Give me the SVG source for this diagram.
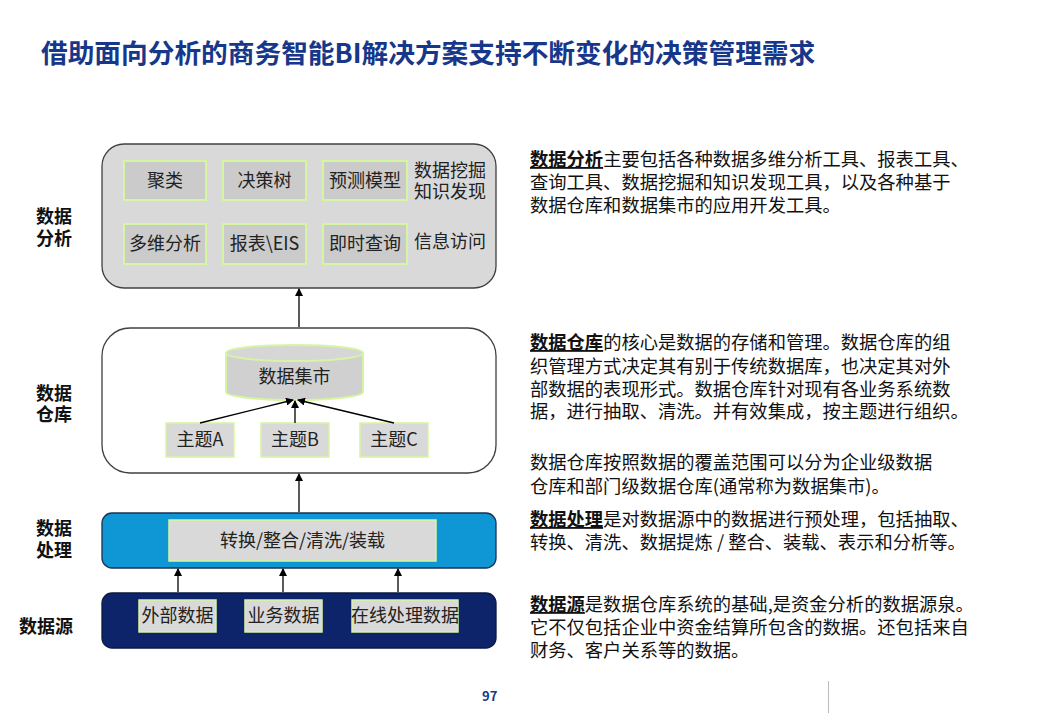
<svg xmlns="http://www.w3.org/2000/svg" width="1040" height="720" viewBox="0 0 1040 720">
<style>
text{font-family:"Noto Sans CJK SC","Liberation Sans",sans-serif;}
.title{font-size:26.7px;font-weight:bold;fill:#17378a;}
.lbl{font-size:18px;font-weight:bold;fill:#111;text-anchor:middle;}
.in{font-size:18px;fill:#222;text-anchor:middle;}
.side{font-size:18px;fill:#222;}
.desc{font-size:18.3px;fill:#111;}
.b{font-weight:bold;text-decoration:underline;}
.inbox{fill:#cbcbcb;stroke:#d6f5a0;stroke-width:2;}
.inbox2{fill:#d9d9d9;stroke:#d6f5a0;stroke-width:1.5;}
.conn{stroke:#000;stroke-width:1.3;fill:none;marker-end:url(#ah);}
</style>
<defs>
<marker id="ah" markerWidth="8" markerHeight="8" refX="7" refY="4" orient="auto" markerUnits="userSpaceOnUse">
<path d="M0,0 L8,4 L0,8 Z" fill="#000"/>
</marker>
</defs>
<rect width="1040" height="720" fill="#fff"/>
<text class="title" x="41" y="63">借助面向分析的商务智能BI解决方案支持不断变化的决策管理需求</text>

<g id="labels">
<text class="lbl" x="54" y="223">数据</text>
<text class="lbl" x="54" y="245">分析</text>
<text class="lbl" x="54" y="400">数据</text>
<text class="lbl" x="54" y="421">仓库</text>
<text class="lbl" x="54" y="535">数据</text>
<text class="lbl" x="54" y="557">处理</text>
<text class="lbl" x="46" y="633">数据源</text>
</g>

<g id="layer-analysis">
<rect x="102" y="144" width="394" height="144" rx="22" fill="#d9d9d9" stroke="#404040" stroke-width="1.3"/>
<g id="n-julei"><rect class="inbox" x="124" y="161" width="82" height="39"/><text class="in" x="165" y="187">聚类</text></g>
<g id="n-juecheshu"><rect class="inbox" x="223" y="161" width="83" height="39"/><text class="in" x="264.5" y="187">决策树</text></g>
<g id="n-yuce"><rect class="inbox" x="323" y="161" width="84" height="39"/><text class="in" x="365" y="187">预测模型</text></g>
<g id="n-duowei"><rect class="inbox" x="124" y="224" width="82" height="40"/><text class="in" x="165" y="250">多维分析</text></g>
<g id="n-baobiao"><rect class="inbox" x="223" y="224" width="83" height="40"/><text class="in" x="264.5" y="250">报表\EIS</text></g>
<g id="n-jishi"><rect class="inbox" x="323" y="224" width="84" height="40"/><text class="in" x="365" y="250">即时查询</text></g>
<text class="side" x="414" y="177">数据挖掘</text>
<text class="side" x="414" y="198">知识发现</text>
<text class="side" x="414" y="248">信息访问</text>
</g>

<g id="layer-warehouse">
<rect x="102" y="328" width="394" height="145" rx="28" fill="#fff" stroke="#404040" stroke-width="1.3"/>
<g id="n-jishi-mart">
<path d="M226,353 L226,392 A68.5,8 0 0 0 363,392 L363,353" fill="#d0d0d0" stroke="#d6f5a0" stroke-width="2"/>
<ellipse cx="294.5" cy="353" rx="68.5" ry="8" fill="#d6d6d6" stroke="#d6f5a0" stroke-width="2"/>
<text class="in" x="294.5" y="383">数据集市</text>
</g>
<g id="n-ta"><rect class="inbox2" x="166" y="423" width="68" height="34"/><text class="in" x="200" y="446">主题A</text></g>
<g id="n-tb"><rect class="inbox2" x="261" y="423" width="68" height="34"/><text class="in" x="295" y="446">主题B</text></g>
<g id="n-tc"><rect class="inbox2" x="360" y="423" width="68" height="34"/><text class="in" x="394" y="446">主题C</text></g>
</g>

<g id="layer-processing">
<rect x="102" y="513" width="394" height="55" rx="10" fill="#0e97d4" stroke="#1a3050" stroke-width="1.3"/>
<g id="n-etl"><rect class="inbox2" x="169" y="520" width="267" height="41"/><text class="in" x="302.5" y="547">转换/整合/清洗/装载</text></g>
</g>

<g id="layer-source">
<rect x="102" y="593" width="394" height="55" rx="10" fill="#0d236a" stroke="#0a1a40" stroke-width="1.3"/>
<g id="n-waibu"><rect class="inbox2" x="139" y="600" width="77" height="32" stroke-width="0"/><text class="in" x="177.5" y="622">外部数据</text></g>
<g id="n-yewu"><rect class="inbox2" x="245" y="600" width="77" height="32" stroke-width="0"/><text class="in" x="283.5" y="622">业务数据</text></g>
<g id="n-zaixian"><rect class="inbox2" x="352" y="600" width="106" height="32" stroke-width="0"/><text class="in" x="405" y="622">在线处理数据</text></g>
</g>

<g id="connectors">
<line class="conn" x1="299" y1="327" x2="299" y2="289"/>
<line class="conn" x1="299" y1="512" x2="299" y2="474"/>
<line class="conn" x1="200" y1="423" x2="293" y2="400"/>
<line class="conn" x1="295" y1="423" x2="295" y2="401"/>
<line class="conn" x1="394" y1="423" x2="298" y2="400"/>
<line class="conn" x1="178" y1="592" x2="178" y2="569"/>
<line class="conn" x1="283" y1="592" x2="283" y2="569"/>
<line class="conn" x1="398" y1="592" x2="398" y2="569"/>
</g>

<g id="descriptions">
<text class="desc" x="530" y="166"><tspan class="b">数据分析</tspan>主要包括各种数据多维分析工具、报表工具、</text>
<text class="desc" x="530" y="189">查询工具、数据挖掘和知识发现工具，以及各种基于</text>
<text class="desc" x="530" y="212">数据仓库和数据集市的应用开发工具。</text>

<text class="desc" x="530" y="349"><tspan class="b">数据仓库</tspan>的核心是数据的存储和管理。数据仓库的组</text>
<text class="desc" x="530" y="373">织管理方式决定其有别于传统数据库，也决定其对外</text>
<text class="desc" x="530" y="396">部数据的表现形式。数据仓库针对现有各业务系统数</text>
<text class="desc" x="530" y="418">据，进行抽取、清洗。并有效集成，按主题进行组织。</text>

<text class="desc" x="530" y="469">数据仓库按照数据的覆盖范围可以分为企业级数据</text>
<text class="desc" x="530" y="493">仓库和部门级数据仓库(通常称为数据集市)。</text>

<text class="desc" x="530" y="526"><tspan class="b">数据处理</tspan>是对数据源中的数据进行预处理，包括抽取、</text>
<text class="desc" x="530" y="549">转换、清洗、数据提炼 / 整合、装载、表示和分析等。</text>

<text class="desc" x="530" y="611"><tspan class="b">数据源</tspan>是数据仓库系统的基础,是资金分析的数据源泉。</text>
<text class="desc" x="530" y="634">它不仅包括企业中资金结算所包含的数据。还包括来自</text>
<text class="desc" x="530" y="657">财务、客户关系等的数据。</text>
</g>

<text x="482" y="701" font-family="Liberation Sans, sans-serif" font-size="13" font-weight="bold" fill="#17378a">97</text>
<line x1="828.5" y1="681" x2="828.5" y2="713" stroke="#bbb" stroke-width="1"/>
</svg>
